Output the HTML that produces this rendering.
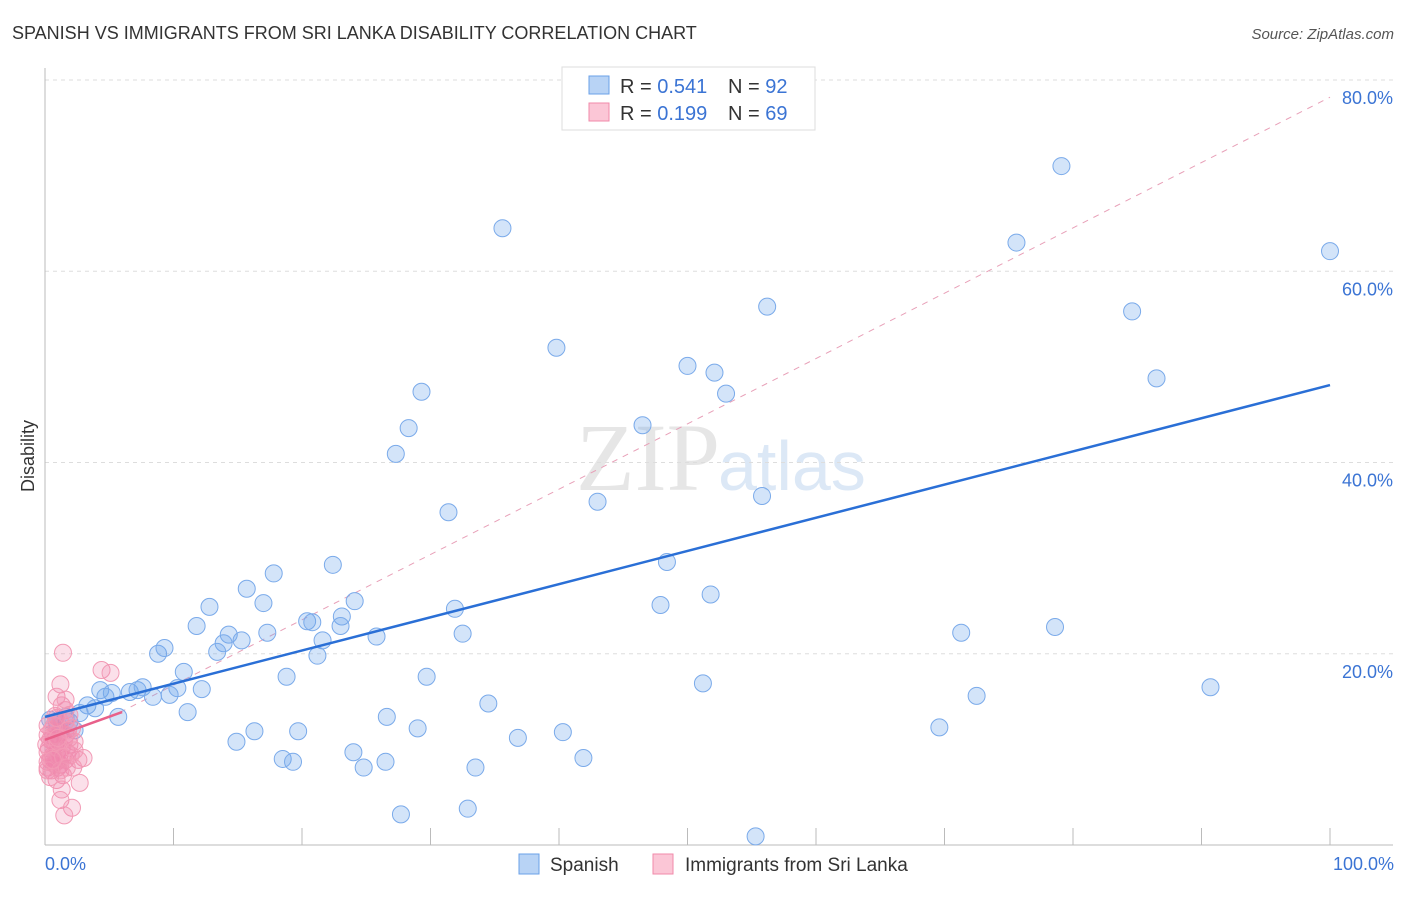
<!DOCTYPE html>
<html><head><meta charset="utf-8"><style>
body{margin:0;background:#fff;font-family:"Liberation Sans",sans-serif}
</style></head><body>
<svg width="1406" height="892" viewBox="0 0 1406 892" xmlns="http://www.w3.org/2000/svg">
<text x="12" y="39" font-size="18" fill="#333">SPANISH VS IMMIGRANTS FROM SRI LANKA DISABILITY CORRELATION CHART</text>
<text x="1394" y="39" font-size="15" fill="#555" font-style="italic" text-anchor="end">Source: ZipAtlas.com</text>
<text x="720" y="490" font-size="96" fill="#e6e6e6" text-anchor="end" font-family="Liberation Serif">ZIP</text>
<text x="718" y="490" font-size="70" fill="#dce8f6">atlas</text>
<g id="grid"></g>
<g id="axes"></g>
<g id="marks"></g>
<text x="34" y="456" font-size="18" fill="#333" text-anchor="middle" transform="rotate(-90 34 456)">Disability</text>
<text x="45" y="870" font-size="18" fill="#3b74d4">0.0%</text>
<text x="1394" y="870" font-size="18" fill="#3b74d4" text-anchor="end">100.0%</text>
<g>
<rect x="562" y="67" width="253" height="63" fill="#fff" stroke="#ddd"/>
<rect x="589" y="76" width="20" height="18" fill="#b8d3f5" stroke="#6aa0e8"/>
<rect x="589" y="103" width="20" height="18" fill="#fbc6d6" stroke="#f08aaa"/>
<text x="620" y="93" font-size="20" fill="#333">R = <tspan fill="#3b74d4">0.541</tspan></text>
<text x="728" y="93" font-size="20" fill="#333">N = <tspan fill="#3b74d4">92</tspan></text>
<text x="620" y="120" font-size="20" fill="#333">R = <tspan fill="#3b74d4">0.199</tspan></text>
<text x="728" y="120" font-size="20" fill="#333">N = <tspan fill="#3b74d4">69</tspan></text>
</g>
<g>
<rect x="519" y="854" width="20" height="20" fill="#b8d3f5" stroke="#6aa0e8"/>
<text x="550" y="871" font-size="19" fill="#333">Spanish</text>
<rect x="653" y="854" width="20" height="20" fill="#fbc6d6" stroke="#f08aaa"/>
<text x="685" y="871" font-size="19" fill="#333">Immigrants from Sri Lanka</text>
</g>
</svg>
<script>
const yTicks=[20,40,60,80];
const yTickLabels=["20.0%","40.0%","60.0%","80.0%"];
const xMinorTicks=[10,20,30,40,50,60,70,80,90,100];
const blueX=[35.6,79.1,75.6,100,56.2,84.6,39.8,50.0,52.1,86.5,53.0,29.3,28.3,46.5,27.3,55.8,43.0,31.4,48.4,22.4,17.8,15.7,12.8,17.0,24.1,31.9,47.9,51.8,20.4,20.8,23.1,23.0,11.8,14.3,13.9,13.4,15.3,17.3,21.6,25.8,32.5,71.3,78.6,8.8,9.3,21.2,10.8,18.8,29.7,51.2,90.7,4.3,5.2,6.6,7.2,7.6,10.3,12.2,4.7,8.4,9.7,72.5,34.5,3.3,3.9,2.7,11.1,5.7,26.6,1.6,1.9,0.9,1.2,16.3,19.7,29.0,69.6,36.8,40.3,14.9,24.0,18.5,19.3,41.9,24.8,26.5,33.5,32.9,27.7,55.3,0.4,2.3];
const blueY=[64.5,71.0,63.0,62.1,56.3,55.8,52.0,50.1,49.4,48.8,47.2,47.4,43.6,43.9,40.9,36.5,35.9,34.8,29.6,29.3,28.4,26.8,24.9,25.3,25.5,24.7,25.1,26.2,23.4,23.3,23.9,22.9,22.9,22.0,21.1,20.2,21.4,22.2,21.4,21.8,22.1,22.2,22.8,20.0,20.6,19.8,18.1,17.6,17.6,16.9,16.5,16.2,15.9,16.0,16.2,16.5,16.4,16.3,15.5,15.5,15.7,15.6,14.8,14.6,14.3,13.8,13.9,13.4,13.4,13.4,12.9,12.9,11.8,11.9,11.9,12.2,12.3,11.2,11.8,10.8,9.7,9.0,8.7,9.1,8.1,8.7,8.1,3.8,3.2,0.9,13.1,12.0];
const pinkX=[1.4,4.4,5.1,1.2,0.9,1.3,1.6,1.9,0.8,0.2,0.5,1.2,1.6,2.1,0.4,0.8,1.0,1.3,0.2,0.6,1.9,2.3,0.4,0.9,1.2,1.6,0.2,0.5,1.0,3.0,2.6,2.2,1.4,0.9,0.6,0.2,0.3,0.5,0.7,1.1,1.5,1.7,0.1,0.5,0.9,1.2,1.6,1.9,2.0,2.7,1.3,1.2,2.1,1.5,0.2,0.8,1.0,1.4,0.2,0.4,1.2,1.7,0.7,1.6,0.9,1.8,2.3,1.0,0.6];
const pinkY=[20.1,18.3,18.0,16.8,15.5,14.6,14.1,13.6,13.5,12.5,12.0,11.8,11.5,12.2,11.0,10.5,9.9,10.1,9.7,9.4,10.5,10.8,8.9,8.7,8.4,8.9,8.1,7.8,8.1,9.1,8.9,8.1,7.3,6.8,10.8,11.5,10.1,9.1,8.5,9.3,11.0,9.7,10.5,11.3,12.3,12.9,12.9,11.2,9.4,6.5,5.8,4.7,3.9,3.1,8.7,11.5,10.8,9.2,7.8,7.1,7.8,8.1,12.5,15.2,13.3,12.0,9.9,11.2,8.9];
const blueTrend=[[0,13.4],[100,48.1]];
const pinkTrend=[[0,11.0],[6,13.9]];
const refLine=[[5,13.3],[100,78.2]];

const NS="http://www.w3.org/2000/svg";
const X=v=>45+v*12.85, Y=v=>845-v*9.5625;
function mk(tag,attrs,parent){const e=document.createElementNS(NS,tag);for(const k in attrs)e.setAttribute(k,attrs[k]);parent.appendChild(e);return e;}
const grid=document.getElementById('grid'),axes=document.getElementById('axes'),marks=document.getElementById('marks');
yTicks.forEach((t,i)=>{
  const l=mk('line',{x1:45,x2:1393,y1:Y(t),y2:Y(t),stroke:'#ddd','stroke-dasharray':'4,4'},grid);
  
  
  const tx=mk('text',{x:1393,y:Y(t)+24,'font-size':18,fill:'#3b74d4','text-anchor':'end'},grid);
  tx.textContent=yTickLabels[i];
  
  
});
let a=mk('line',{x1:45,x2:45,y1:68,y2:845,stroke:'#bbb'},axes);


a=mk('line',{x1:45,x2:1393,y1:845,y2:845,stroke:'#bbb'},axes);


xMinorTicks.forEach(t=>{
  const l=mk('line',{x1:X(t),x2:X(t),y1:828,y2:845,stroke:'#bbb'},axes);
  
  
});
let r=mk('line',{x1:X(refLine[0][0]),y1:Y(refLine[0][1]),x2:X(refLine[1][0]),y2:Y(refLine[1][1]),stroke:'#e8a0b8','stroke-dasharray':'6,6','stroke-width':1},marks);


blueX.forEach((x,i)=>{
  const c=mk('circle',{cx:X(x),cy:Y(blueY[i]),r:8.5,fill:'rgba(110,165,235,0.3)',stroke:'#7aaaea','stroke-width':1},marks);
  
  
});
pinkX.forEach((x,i)=>{
  const c=mk('circle',{cx:X(x),cy:Y(pinkY[i]),r:8.5,fill:'rgba(240,130,170,0.25)',stroke:'#f29ab5','stroke-width':1},marks);
  
  
});
let t=mk('line',{x1:X(blueTrend[0][0]),y1:Y(blueTrend[0][1]),x2:X(blueTrend[1][0]),y2:Y(blueTrend[1][1]),stroke:'#2a6fd6','stroke-width':2.5},marks);


t=mk('line',{x1:X(pinkTrend[0][0]),y1:Y(pinkTrend[0][1]),x2:X(pinkTrend[1][0]),y2:Y(pinkTrend[1][1]),stroke:'#e8608a','stroke-width':2.5},marks);


</script>
</body></html>
